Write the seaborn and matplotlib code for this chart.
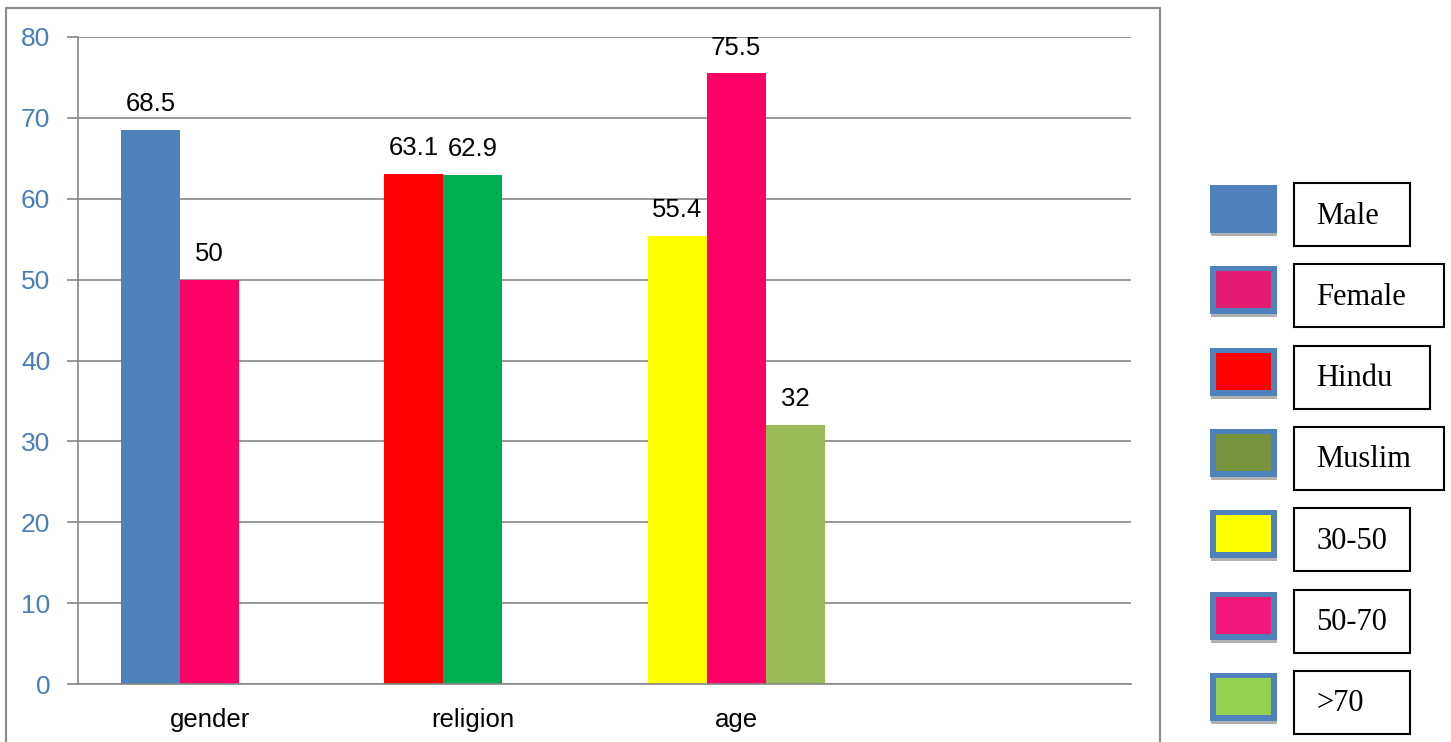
import matplotlib
matplotlib.use("Agg")
import matplotlib.pyplot as plt
import seaborn as sns
import pandas as pd
from matplotlib.patches import Rectangle

# data
groups = ["gender", "religion", "age", ""]
bar_groups = ["gender", "gender", "religion", "religion", "age", "age", "age"]
bar_slots = ["0", "1", "0", "1", "0", "1", "2"]
bar_values = [68.5, 50, 63.1, 62.9, 55.4, 75.5, 32]
bar_colors = ["#4F81BD", "#FF0066", "#FF0000", "#00B050", "#FFFF00", "#FF0066", "#9BBB59"]

legend_labels = ["Male", "Female", "Hindu", "Muslim", "30-50", "50-70", ">70"]
legend_colors = ["#4F81BD", "#E31B73", "#FF0000", "#77933C", "#FFFF00", "#F2197A", "#92D050"]

sns.set_theme(style="white")
plt.rcParams["font.family"] = ["Liberation Sans", "DejaVu Sans"]

W, H = 1451, 742
grey = "#868686"

df = pd.DataFrame({"group": bar_groups, "slot": bar_slots, "value": bar_values})

fig = plt.figure(figsize=(W / 100, H / 100), dpi=100)
ax = fig.add_axes([78 / W, 1 - 684 / H, (1131 - 78) / W, (684 - 37) / H])

sns.barplot(data=df, x="group", y="value", hue="slot", order=groups,
            hue_order=["0", "1", "2"], width=0.673, dodge=True,
            saturation=1, errorbar=None, legend=False, ax=ax)

# recolour each bar by its group and slot
lookup = {(g, s): c for g, s, c in zip(bar_groups, bar_slots, bar_colors)}
for slot, cont in zip(["0", "1", "2"], ax.containers):
    for bar in cont:
        gi = int(round(bar.get_x() + bar.get_width() / 2))
        bar.set_facecolor(lookup[(groups[gi], slot)])
        bar.set_edgecolor("none")
    ax.bar_label(cont, fmt="%g", padding=10, fontsize=18.5, color="black")

ax.set_xlim(-0.5, 3.5)
ax.set_ylim(0, 80)
ax.set_yticks(range(0, 81, 10))
ax.set_xticks(range(len(groups)))
ax.set_xticklabels(groups, fontsize=18.5, color="black")
ax.set_xticks([i - 0.5 for i in range(len(groups) + 1)], minor=True)
ax.tick_params(axis="x", which="major", length=0, pad=17)
ax.tick_params(axis="x", which="minor", length=8, width=1.2, color=grey, direction="out")
ax.tick_params(axis="y", length=8, width=1.2, color=grey, direction="out",
               labelsize=19, labelcolor="#4A7EBB", pad=12, left=True)
ax.set_xlabel("")
ax.set_ylabel("")

ax.yaxis.grid(True, color=grey, lw=1.2)
ax.xaxis.grid(False)
ax.set_axisbelow(True)
for side in ["top", "right"]:
    ax.spines[side].set_visible(False)
for side in ["left", "bottom"]:
    ax.spines[side].set_color(grey)
    ax.spines[side].set_linewidth(1.2)

# overlay in pixel units for the frame and the hand-made legend
ov = fig.add_axes([0, 0, 1, 1], facecolor="none")
ov.set_xlim(0, W)
ov.set_ylim(H, 0)
ov.axis("off")

ov.plot([6, 6, 1160, 1160], [H, 8, 8, H], color="#8C8C8C", lw=1.6)

box_w = [116, 150, 136, 150, 116, 116, 116]
for i, (lab, col) in enumerate(zip(legend_labels, legend_colors)):
    top = 183 + 81.3 * i
    st = top + 2
    # swatch with shadow and blue border
    ov.add_patch(Rectangle((1211, st + 3), 66, 48, facecolor="#B0B0B0", edgecolor="none"))
    ov.add_patch(Rectangle((1210, st), 67, 48, facecolor="#4F81BD", edgecolor="none"))
    ov.add_patch(Rectangle((1216, st + 5), 55, 37, facecolor=col, edgecolor="none"))
    # text box
    ov.add_patch(Rectangle((1294, top), box_w[i], 63, facecolor="white",
                           edgecolor="black", lw=1.5))
    ov.text(1316, top + 33, lab, fontsize=22, va="center", ha="left",
            family=["Liberation Serif", "DejaVu Serif"], color="black")

fig.savefig("out.png", dpi=100)
